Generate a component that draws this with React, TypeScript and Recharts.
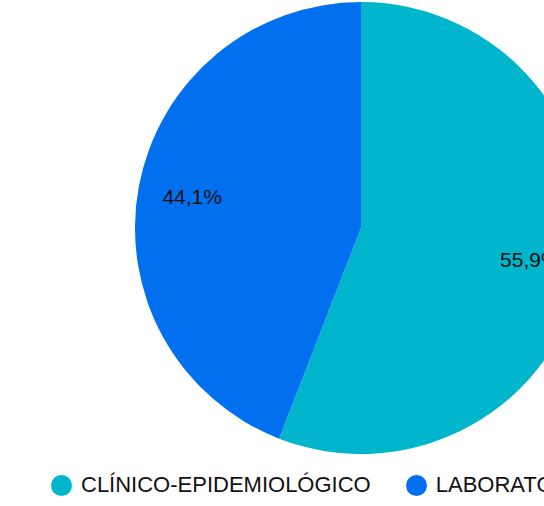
import React from 'react';
import { PieChart, Pie, Cell, Legend } from 'recharts';

const categories = ['CLÍNICO-EPIDEMIOLÓGICO', 'LABORATORIAL'];
const values = [55.9, 44.1];
const labels = ['55,9%', '44,1%'];
const colors = ['#00B5CC', '#0070EE'];

const data = categories.map((name, i) => ({ name, value: values[i], label: labels[i] }));

const RAD = Math.PI / 180;

const renderLabel = (props: any) => {
  const { cx, cy, midAngle, outerRadius, index } = props;
  const r = outerRadius * 0.76;
  const x = cx + r * Math.cos(-midAngle * RAD);
  const y = cy + r * Math.sin(-midAngle * RAD);
  return (
    <text x={x} y={y} fill="#111" textAnchor="middle" dominantBaseline="central" fontSize={21}>
      {labels[index]}
    </text>
  );
};

const renderLegend = () => (
  <div style={{ display: 'flex', justifyContent: 'flex-start', paddingLeft: 51, gap: 35 }}>
    {categories.map((c, i) => (
      <div key={c} style={{ display: 'flex', alignItems: 'center', whiteSpace: 'nowrap' }}>
        <span
          style={{
            display: 'inline-block',
            width: 21,
            height: 21,
            borderRadius: '50%',
            background: colors[i],
            marginRight: 9,
          }}
        />
        <span style={{ fontSize: 22, color: '#111' }}>{c}</span>
      </div>
    ))}
  </div>
);

export default function App() {
  return (
    <div
      style={{
        position: 'absolute',
        left: 0,
        top: 0,
        width: 544,
        height: 506,
        overflow: 'hidden',
        fontFamily: '"Liberation Sans", Arial, sans-serif',
      }}
    >
      <PieChart width={722} height={506} margin={{ top: 0, right: 0, bottom: 0, left: 0 }}>
        <Pie
          data={data}
          dataKey="value"
          nameKey="name"
          cx={361}
          cy={228}
          outerRadius={226}
          startAngle={90}
          endAngle={-270}
          stroke="none"
          label={renderLabel}
          labelLine={false}
          isAnimationActive={false}
        >
          {data.map((d, i) => (
            <Cell key={d.name} fill={colors[i]} />
          ))}
        </Pie>
        <Legend
          content={renderLegend}
          verticalAlign="bottom"
          wrapperStyle={{ bottom: 8, left: 0, width: 722 }}
        />
      </PieChart>
    </div>
  );
}
